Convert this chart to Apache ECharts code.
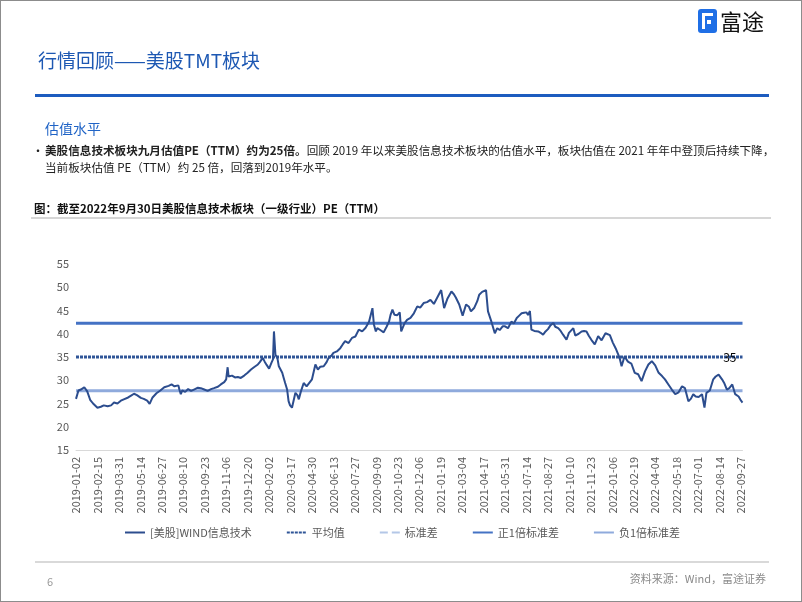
<!DOCTYPE html>
<html>
<head>
<meta charset="utf-8">
<script src="https://cdn.jsdelivr.net/npm/echarts@6/dist/echarts.min.js"></script>
<style>
  html, body { margin: 0; padding: 0; background: #fff; }
  #page { position: relative; width: 802px; height: 602px; box-sizing: border-box; border: 1px solid #8c8c8c; overflow: hidden; font-family: "Noto Sans CJK SC", "Noto Sans", sans-serif; }
  #chart { position: absolute; left: 0; top: 0; width: 802px; height: 602px; }
  .t { position: absolute; white-space: nowrap; }
</style>
</head>
<body>
<div id="page">
  <div id="chart"></div>
  <div style="position:absolute;left:697px;top:8px;width:19px;height:24px;background:#1f6fe6;border-radius:3px;">
    <div style="position:absolute;left:4px;top:4px;width:11px;height:16px;border-left:3px solid #fff;border-top:3px solid #fff;box-sizing:border-box;"></div>
    <div style="position:absolute;left:9px;top:11px;width:4px;height:4px;background:#fff;"></div>
  </div>
  <div class="t" style="left:719px;top:3px;font-size:22px;color:#111;letter-spacing:0px;">富途</div>
  <div class="t" style="left:37px;top:45px;font-size:19px;color:#1d58b3;">行情回顾——美股TMT板块</div>
  <div style="position:absolute;left:34px;top:93px;width:734px;height:3px;background:#1d5cbf;"></div>
  <div class="t" style="left:44px;top:117px;font-size:14px;color:#1f63c6;">估值水平</div>
  <div class="t" style="left:31px;top:141px;font-size:12px;color:#222;">•</div>
  <div class="t" style="left:44px;top:141px;font-size:11.6px;color:#222;"><b>美股信息技术板块九月估值PE（TTM）约为25倍。</b>回顾 2019 年以来美股信息技术板块的估值水平，板块估值在 2021 年年中登顶后持续下降，</div>
  <div class="t" style="left:44px;top:158px;font-size:11.6px;color:#222;">当前板块估值 PE（TTM）约 25 倍，回落到2019年水平。</div>
  <div class="t" style="left:33px;top:199px;font-size:11.5px;color:#111;font-weight:bold;">图：截至2022年9月30日美股信息技术板块（一级行业）PE（TTM）</div>
  <div style="position:absolute;left:30px;top:216px;width:740px;height:2px;background:#d6d6d6;"></div>
  <div style="position:absolute;left:34px;top:560px;width:734px;height:2px;background:#d9d9d9;"></div>
  <div class="t" style="left:46px;top:572px;font-size:11px;color:#9a9a9a;">6</div>
  <div class="t" style="right:35px;top:569px;font-size:11px;color:#8a8a8a;">资料来源：Wind，富途证券</div>
</div>
<script>
// ---- data ----
const xTickLabels = ['2019-01-02','2019-02-15','2019-03-31','2019-05-14','2019-06-27','2019-08-10','2019-09-23','2019-11-06','2019-12-20',
  '2020-02-02','2020-03-17','2020-04-30','2020-06-13','2020-07-27','2020-09-09','2020-10-23','2020-12-06',
  '2021-01-19','2021-03-04','2021-04-17','2021-05-31','2021-07-14','2021-08-27','2021-10-10','2021-11-23',
  '2022-01-06','2022-02-19','2022-04-04','2022-05-18','2022-07-01','2022-08-14','2022-09-27'];
const yTicks = [15, 20, 25, 30, 35, 40, 45, 50, 55];

const peDates = [
 '2019-01-02','2019-01-07','2019-01-12','2019-01-19','2019-01-25','2019-01-29','2019-01-31','2019-02-06','2019-02-15','2019-02-22',
 '2019-02-28','2019-03-08','2019-03-15','2019-03-21','2019-03-28','2019-04-04','2019-04-10','2019-04-19','2019-04-25','2019-05-01',
 '2019-05-07','2019-05-15','2019-05-21','2019-05-28','2019-06-02','2019-06-08','2019-06-16','2019-06-24','2019-07-02','2019-07-11',
 '2019-07-17','2019-07-23','2019-07-31','2019-08-02','2019-08-05','2019-08-08','2019-08-14','2019-08-20','2019-08-26','2019-09-01',
 '2019-09-09','2019-09-15','2019-09-22','2019-09-29','2019-10-06','2019-10-12','2019-10-20','2019-10-26','2019-11-02','2019-11-06',
 '2019-11-09','2019-11-11','2019-11-18','2019-11-24','2019-11-30','2019-12-06','2019-12-13','2019-12-20','2019-12-27','2020-01-02',
 '2020-01-10','2020-01-14','2020-01-20','2020-01-24','2020-01-28','2020-02-02','2020-02-07','2020-02-10','2020-02-12','2020-02-15',
 '2020-02-19','2020-02-22','2020-02-29','2020-03-03','2020-03-06','2020-03-10','2020-03-13','2020-03-16','2020-03-20','2020-03-22',
 '2020-03-27','2020-03-31','2020-04-03','2020-04-07','2020-04-13','2020-04-19','2020-04-23','2020-04-30','2020-05-04','2020-05-07',
 '2020-05-12','2020-05-17','2020-05-24','2020-05-30','2020-06-03','2020-06-09','2020-06-13','2020-06-20','2020-06-27','2020-07-02',
 '2020-07-07','2020-07-14','2020-07-21','2020-07-28','2020-08-04','2020-08-11','2020-08-18','2020-08-25','2020-09-01','2020-09-04',
 '2020-09-08','2020-09-11','2020-09-17','2020-09-24','2020-09-30','2020-10-05','2020-10-08','2020-10-12','2020-10-16','2020-10-22',
 '2020-10-27','2020-10-30','2020-11-06','2020-11-11','2020-11-18','2020-11-25','2020-12-02','2020-12-08','2020-12-15','2020-12-22',
 '2020-12-29','2021-01-05','2021-01-12','2021-01-16','2021-01-20','2021-01-26','2021-02-02','2021-02-10','2021-02-15','2021-02-19',
 '2021-02-26','2021-03-05','2021-03-12','2021-03-18','2021-03-22','2021-03-29','2021-04-04','2021-04-08','2021-04-14','2021-04-22',
 '2021-04-26','2021-05-03','2021-05-10','2021-05-15','2021-05-20','2021-05-26','2021-05-31','2021-06-06','2021-06-13','2021-06-18',
 '2021-06-24','2021-06-29','2021-07-04','2021-07-09','2021-07-14','2021-07-17','2021-07-21','2021-07-24','2021-07-30','2021-08-07',
 '2021-08-12','2021-08-17','2021-08-22','2021-08-27','2021-09-01','2021-09-07','2021-09-11','2021-09-17','2021-09-22','2021-09-27',
 '2021-10-04','2021-10-09','2021-10-18','2021-10-22','2021-10-29','2021-11-04','2021-11-09','2021-11-14','2021-11-19','2021-11-24',
 '2021-12-01','2021-12-08','2021-12-15','2021-12-23','2022-01-01','2022-01-07','2022-01-14','2022-01-21','2022-01-25','2022-01-31',
 '2022-02-07','2022-02-14','2022-02-21','2022-02-28','2022-03-07','2022-03-14','2022-03-21','2022-03-28','2022-04-04','2022-04-11',
 '2022-04-18','2022-04-24','2022-05-01','2022-05-08','2022-05-15','2022-05-22','2022-05-29','2022-06-04','2022-06-11','2022-06-16',
 '2022-06-21','2022-06-26','2022-07-02','2022-07-09','2022-07-14','2022-07-18','2022-07-25','2022-08-01','2022-08-06','2022-08-12',
 '2022-08-19','2022-08-24','2022-08-29','2022-09-03','2022-09-09','2022-09-15','2022-09-22','2022-09-27','2022-09-30'];
const peValues = [
 26.0,27.8,28.0,28.5,27.6,27.4,25.8,25.0,24.1,24.3,
 24.6,24.4,24.6,25.2,25.0,25.6,25.9,26.3,26.7,27.1,
 26.8,26.2,26.0,25.6,24.9,26.3,27.2,27.8,28.5,28.8,
 29.1,28.7,28.9,28.0,27.0,27.8,27.5,28.1,27.7,28.0,
 28.4,28.3,28.0,27.7,28.1,28.3,28.6,29.1,29.6,30.2,
 32.8,30.8,31.0,30.6,30.7,30.5,31.0,31.6,32.3,32.8,
 33.4,33.9,34.8,34.0,33.3,32.5,33.8,34.5,40.5,35.5,
 34.8,33.0,31.6,30.5,29.4,28.0,25.5,24.6,24.1,24.3,
 27.3,26.8,25.9,27.5,29.4,28.7,29.1,30.2,30.6,33.4,
 32.3,32.9,33.0,33.9,34.8,35.3,35.9,36.2,36.9,37.7,
 38.4,38.0,39.1,39.4,40.9,40.5,41.3,42.6,45.5,42.0,
 40.5,41.2,40.8,40.3,41.5,42.6,44.0,45.2,44.1,44.0,
 44.6,40.5,42.3,43.0,43.4,44.4,45.9,45.6,46.6,46.8,
 47.3,46.4,47.8,48.1,49.4,45.5,47.6,49.1,48.5,47.8,
 46.3,43.9,46.3,45.8,44.8,45.6,47.0,48.4,49.0,49.4,
 44.8,42.6,40.1,41.2,40.8,41.6,41.6,41.2,42.6,42.2,
 43.4,43.9,44.4,44.5,44.6,44.0,44.9,40.9,40.6,40.5,
 40.2,39.8,40.5,41.0,41.8,42.3,41.5,41.2,40.6,39.8,
 38.7,40.2,41.2,39.6,40.0,40.5,40.6,40.5,39.5,38.7,
 37.7,39.5,38.6,40.1,39.7,38.1,36.6,34.8,33.0,35.1,
 34.0,33.6,31.6,31.3,29.8,31.9,33.4,34.1,33.2,31.6,
 30.9,30.2,29.1,28.0,27.0,27.4,28.7,28.3,25.5,26.0,
 27.0,26.5,26.4,27.0,24.1,27.3,27.8,30.2,30.8,31.2,
 30.2,29.3,28.0,28.3,29.1,27.0,26.5,25.6,25.2];

const meanPE = 35.0;
const stdPE = 7.25;
const plusOneStd = 42.25;
const minusOneStd = 27.75;

const seriesNames = ['[美股]WIND信息技术', '平均值', '标准差', '正1倍标准差', '负1倍标准差'];

// ---- build ----
const DAY = 86400000;
const t0 = Date.UTC(2019, 0, 2);
function dayOffset(s) {
  const p = s.split('-').map(Number);
  return Math.round((Date.UTC(p[0], p[1] - 1, p[2]) - t0) / DAY);
}
const firstX = dayOffset(peDates[0]);
const lastX = dayOffset(peDates[peDates.length - 1]);
const tickStep = dayOffset(xTickLabels[1]);
const mainData = peDates.map((d, i) => [dayOffset(d), peValues[i]]);
function flat(v) { return [[firstX, v], [lastX, v]]; }

const chart = echarts.init(document.getElementById('chart'), null, { renderer: 'canvas' });
const font = '"Noto Sans CJK SC", "Noto Sans", sans-serif';
const common = { type: 'line', symbol: 'circle', symbolSize: 1, showSymbol: false };
chart.setOption({
  animation: false,
  textStyle: { fontFamily: font },
  grid: { left: 75, right: 802 - 741.5, top: 263, bottom: 602 - 449, containLabel: false },
  xAxis: {
    type: 'value', min: 0, max: lastX, interval: tickStep,
    axisLine: { show: true, lineStyle: { color: '#d9d9d9', width: 1 } },
    axisTick: { show: false },
    splitLine: { show: false },
    axisLabel: {
      rotate: 90, fontSize: 11, color: '#595959', margin: 7, fontFamily: font,
      showMaxLabel: false,
      formatter: function (v) {
        const k = v / tickStep;
        return Number.isInteger(k) && xTickLabels[k] ? xTickLabels[k] : '';
      }
    }
  },
  yAxis: {
    type: 'value', min: yTicks[0], max: yTicks[yTicks.length - 1], interval: yTicks[1] - yTicks[0],
    axisLine: { show: false }, axisTick: { show: false }, splitLine: { show: false },
    axisLabel: { fontSize: 11, color: '#595959', margin: 7, fontFamily: font }
  },
  legend: {
    data: seriesNames,
    left: 'center', top: 521,
    itemWidth: 20, itemHeight: 10, itemGap: 34,
    itemStyle: { opacity: 0 },
    textStyle: { fontSize: 11, color: '#595959', fontFamily: font }
  },
  series: [
    Object.assign({}, common, { name: seriesNames[0], data: mainData, z: 5,
      lineStyle: { color: '#2c4d8e', width: 2 }, itemStyle: { color: '#2c4d8e' } }),
    Object.assign({}, common, { name: seriesNames[1], z: 3,
      data: flat(meanPE),
      lineStyle: { color: '#2f5597', width: 3, type: [3, 1] }, itemStyle: { color: '#2f5597' },
      markPoint: {
        symbol: 'circle', symbolSize: 0,
        label: { show: true, position: 'left', distance: 6, color: '#000', fontSize: 12, fontFamily: font,
          formatter: p => String(Math.round(p.value)) },
        data: [{ coord: [lastX, meanPE], value: meanPE }]
      } }),
    Object.assign({}, common, { name: seriesNames[2], data: flat(stdPE), z: 2, clip: true,
      lineStyle: { color: '#b4c7e7', width: 2, type: 'dashed' }, itemStyle: { color: '#b4c7e7' } }),
    Object.assign({}, common, { name: seriesNames[3], data: flat(plusOneStd), z: 3,
      lineStyle: { color: '#4472c4', width: 3 }, itemStyle: { color: '#4472c4' } }),
    Object.assign({}, common, { name: seriesNames[4], data: flat(minusOneStd), z: 3,
      lineStyle: { color: '#8faadc', width: 3 }, itemStyle: { color: '#8faadc' } })
  ]
});
</script>
</body>
</html>
